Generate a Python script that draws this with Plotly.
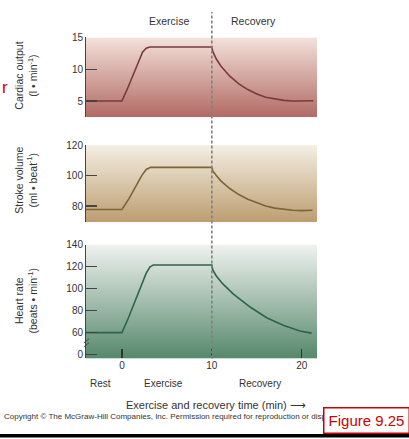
import plotly.graph_objects as go

W, H = 409, 439

# ---------------- data ----------------
co_t = [-4.0, 0.0, 0.6, 1.2, 1.8, 2.3, 2.7, 3.1, 10.0, 10.1, 10.5, 11, 12, 13, 14, 15, 16, 17, 18, 19, 20, 21.3]
co_v = [5.0, 5.0, 6.9, 8.9, 11.0, 12.7, 13.3, 13.5, 13.5, 12.8, 11.6, 10.5, 8.9, 7.7, 6.8, 6.1, 5.6, 5.3, 5.1, 5.0, 5.0, 5.05]

sv_t = [-4.0, 0.0, 0.8, 1.6, 2.2, 2.7, 3.2, 10.0, 10.1, 10.5, 11, 12, 13, 14, 15, 16, 17, 18, 19, 20, 21.2]
sv_v = [77.7, 77.7, 85, 94, 100, 104, 105.4, 105.4, 103, 100, 96.5, 91.5, 87.5, 84.5, 82, 80, 78.6, 77.7, 77.2, 77.0, 77.2]

hr_t = [-4.0, 0.0, 0.7, 1.4, 2.1, 2.7, 3.1, 3.5, 10.0, 10.1, 10.5, 11.2, 12.4, 14.3, 16.1, 18.0, 19.8, 21.1]
hr_v = [60, 60, 73, 87, 102, 114, 119.5, 121.5, 121.5, 117, 111.5, 104.5, 95, 83, 73.5, 66.5, 61.5, 59.5]

co_ticks = [5, 10, 15]
sv_ticks = [80, 100, 120]
hr_tickvals = [40, 60, 80, 100, 120, 140]
hr_ticktext = ["0", "60", "80", "100", "120", "140"]
time_ticks = [0, 10, 20]
exercise_end = 10

co_range = [2.5, 15]
sv_range = [69.5, 120]
hr_range = [36.5, 140]
t_range = [-4.0, 21.7]

FONT = "Liberation Sans, Arial, sans-serif"
TXT = "#333333"


def px(x):
    return x / W


def py(y):
    return 1 - y / H


fig = go.Figure()

panels = [
    ("x", "y", co_t, co_v, co_range, "#7a3a3e", "#f3e1db", "#b16a62"),
    ("x2", "y2", sv_t, sv_v, sv_range, "#7c6436", "#f4eee3", "#bc9d70"),
    ("x3", "y3", hr_t, hr_v, hr_range, "#2f6447", "#f0f2f0", "#55886b"),
]

for xr, yr, t, v, rng, lc, ctop, cbot in panels:
    # vertical gradient background
    fig.add_trace(go.Heatmap(x=[t_range[0] - 5, t_range[1] + 5], y=[rng[0], rng[1]],
                             z=[[0, 0], [1, 1]], zsmooth="best", zmin=0, zmax=1,
                             colorscale=[[0, cbot], [1, ctop]], showscale=False,
                             hoverinfo="skip", xaxis=xr, yaxis=yr))
    fig.add_trace(go.Scatter(x=t, y=v, xaxis=xr, yaxis=yr, mode="lines",
                             line=dict(color=lc, width=1.6), hoverinfo="skip", showlegend=False))

shapes = []
# dashed divider exercise/recovery
shapes.append(dict(type="line", xref="x3", yref="paper", x0=exercise_end, x1=exercise_end,
                   y0=py(359), y1=py(6), line=dict(color="#808080", width=1.6, dash="3px,2px")))

# axis break marks on heart-rate axis
for yy in (341, 345):
    shapes.append(dict(type="line", xref="paper", yref="paper",
                       x0=px(84), x1=px(89), y0=py(yy + 2), y1=py(yy - 2),
                       line=dict(color="#444444", width=1)))

# bottom bar
shapes.append(dict(type="rect", xref="paper", yref="paper", x0=0, x1=1,
                   y0=py(439.5), y1=py(436), fillcolor="black", line=dict(width=0)))

xcommon = dict(domain=[px(86), px(317)], range=t_range, showgrid=False, zeroline=False,
               showline=False, fixedrange=True)
ycommon = dict(showgrid=False, zeroline=False, showline=True, linecolor="#444444", linewidth=1,
               ticks="inside", ticklen=11, tickcolor="#444444", tickwidth=1.2, fixedrange=True,
               tickfont=dict(size=10, color=TXT, family=FONT))

fig.update_layout(
    width=W, height=H, margin=dict(l=0, r=0, t=0, b=0),
    paper_bgcolor="white", plot_bgcolor="rgba(0,0,0,0)",
    font=dict(family=FONT, color=TXT),
    xaxis=dict(**xcommon, anchor="y", showticklabels=False, ticks=""),
    xaxis2=dict(**xcommon, anchor="y2", showticklabels=False, ticks="", matches="x"),
    xaxis3=dict(**xcommon, anchor="y3", matches="x", tickvals=time_ticks, ticks="inside",
                ticklen=9, tickcolor="#333333", tickwidth=1.2,
                tickfont=dict(size=10, color=TXT, family=FONT)),
    yaxis=dict(**ycommon, domain=[py(113), py(32)], range=co_range, tickvals=co_ticks, anchor="x"),
    yaxis2=dict(**ycommon, domain=[py(220), py(141.7)], range=sv_range, tickvals=sv_ticks, anchor="x2"),
    yaxis3=dict(**ycommon, domain=[py(359), py(243)], range=hr_range, tickvals=hr_tickvals,
                ticktext=hr_ticktext, anchor="x3"),
    shapes=shapes,
    showlegend=False,
)

ann = []


def add_text(text, x, y, size=10, color=TXT, angle=0, xanchor="center"):
    ann.append(dict(text=text, x=px(x), y=py(y), xref="paper", yref="paper", showarrow=False,
                    font=dict(size=size, color=color, family=FONT), textangle=angle,
                    xanchor=xanchor, yanchor="middle"))


add_text("Exercise", 169, 15, 10.5)
add_text("Recovery", 253, 15, 10.5)
add_text("Cardiac output<br>(l • min<sup>-1</sup>)", 26, 71, 10.5, angle=-90)
add_text("Stroke volume<br>(ml • beat<sup>-1</sup>)", 26, 178, 10.5, angle=-90)
add_text("Heart rate<br>(beats • min<sup>-1</sup>)", 26, 300, 10.5, angle=-90)
add_text("Rest", 100, 384, 10)
add_text("Exercise", 163, 384, 10)
add_text("Recovery", 260, 384, 10)
add_text("Exercise and recovery time (min) ⟶", 216, 406, 11)
add_text("Copyright © The McGraw-Hill Companies, Inc. Permission required for reproduction or display.",
         2, 418, 8, xanchor="left")
add_text("r", 0, 83, 17, color="#cc0000", xanchor="left")

# figure label box (drawn above the copyright line)
ann.append(dict(text="Figure 9.25", x=px(366), y=py(422), xref="paper", yref="paper",
                showarrow=False, font=dict(size=15, color="#cc0000", family=FONT),
                bgcolor="white", bordercolor="#cc0000", borderwidth=1.5, borderpad=3,
                width=78, height=18, xanchor="center", yanchor="middle"))

fig.update_layout(annotations=ann)

fig.write_html("out.html", config={"displayModeBar": False, "staticPlot": True},
               post_script="document.body.style.margin='0';")
